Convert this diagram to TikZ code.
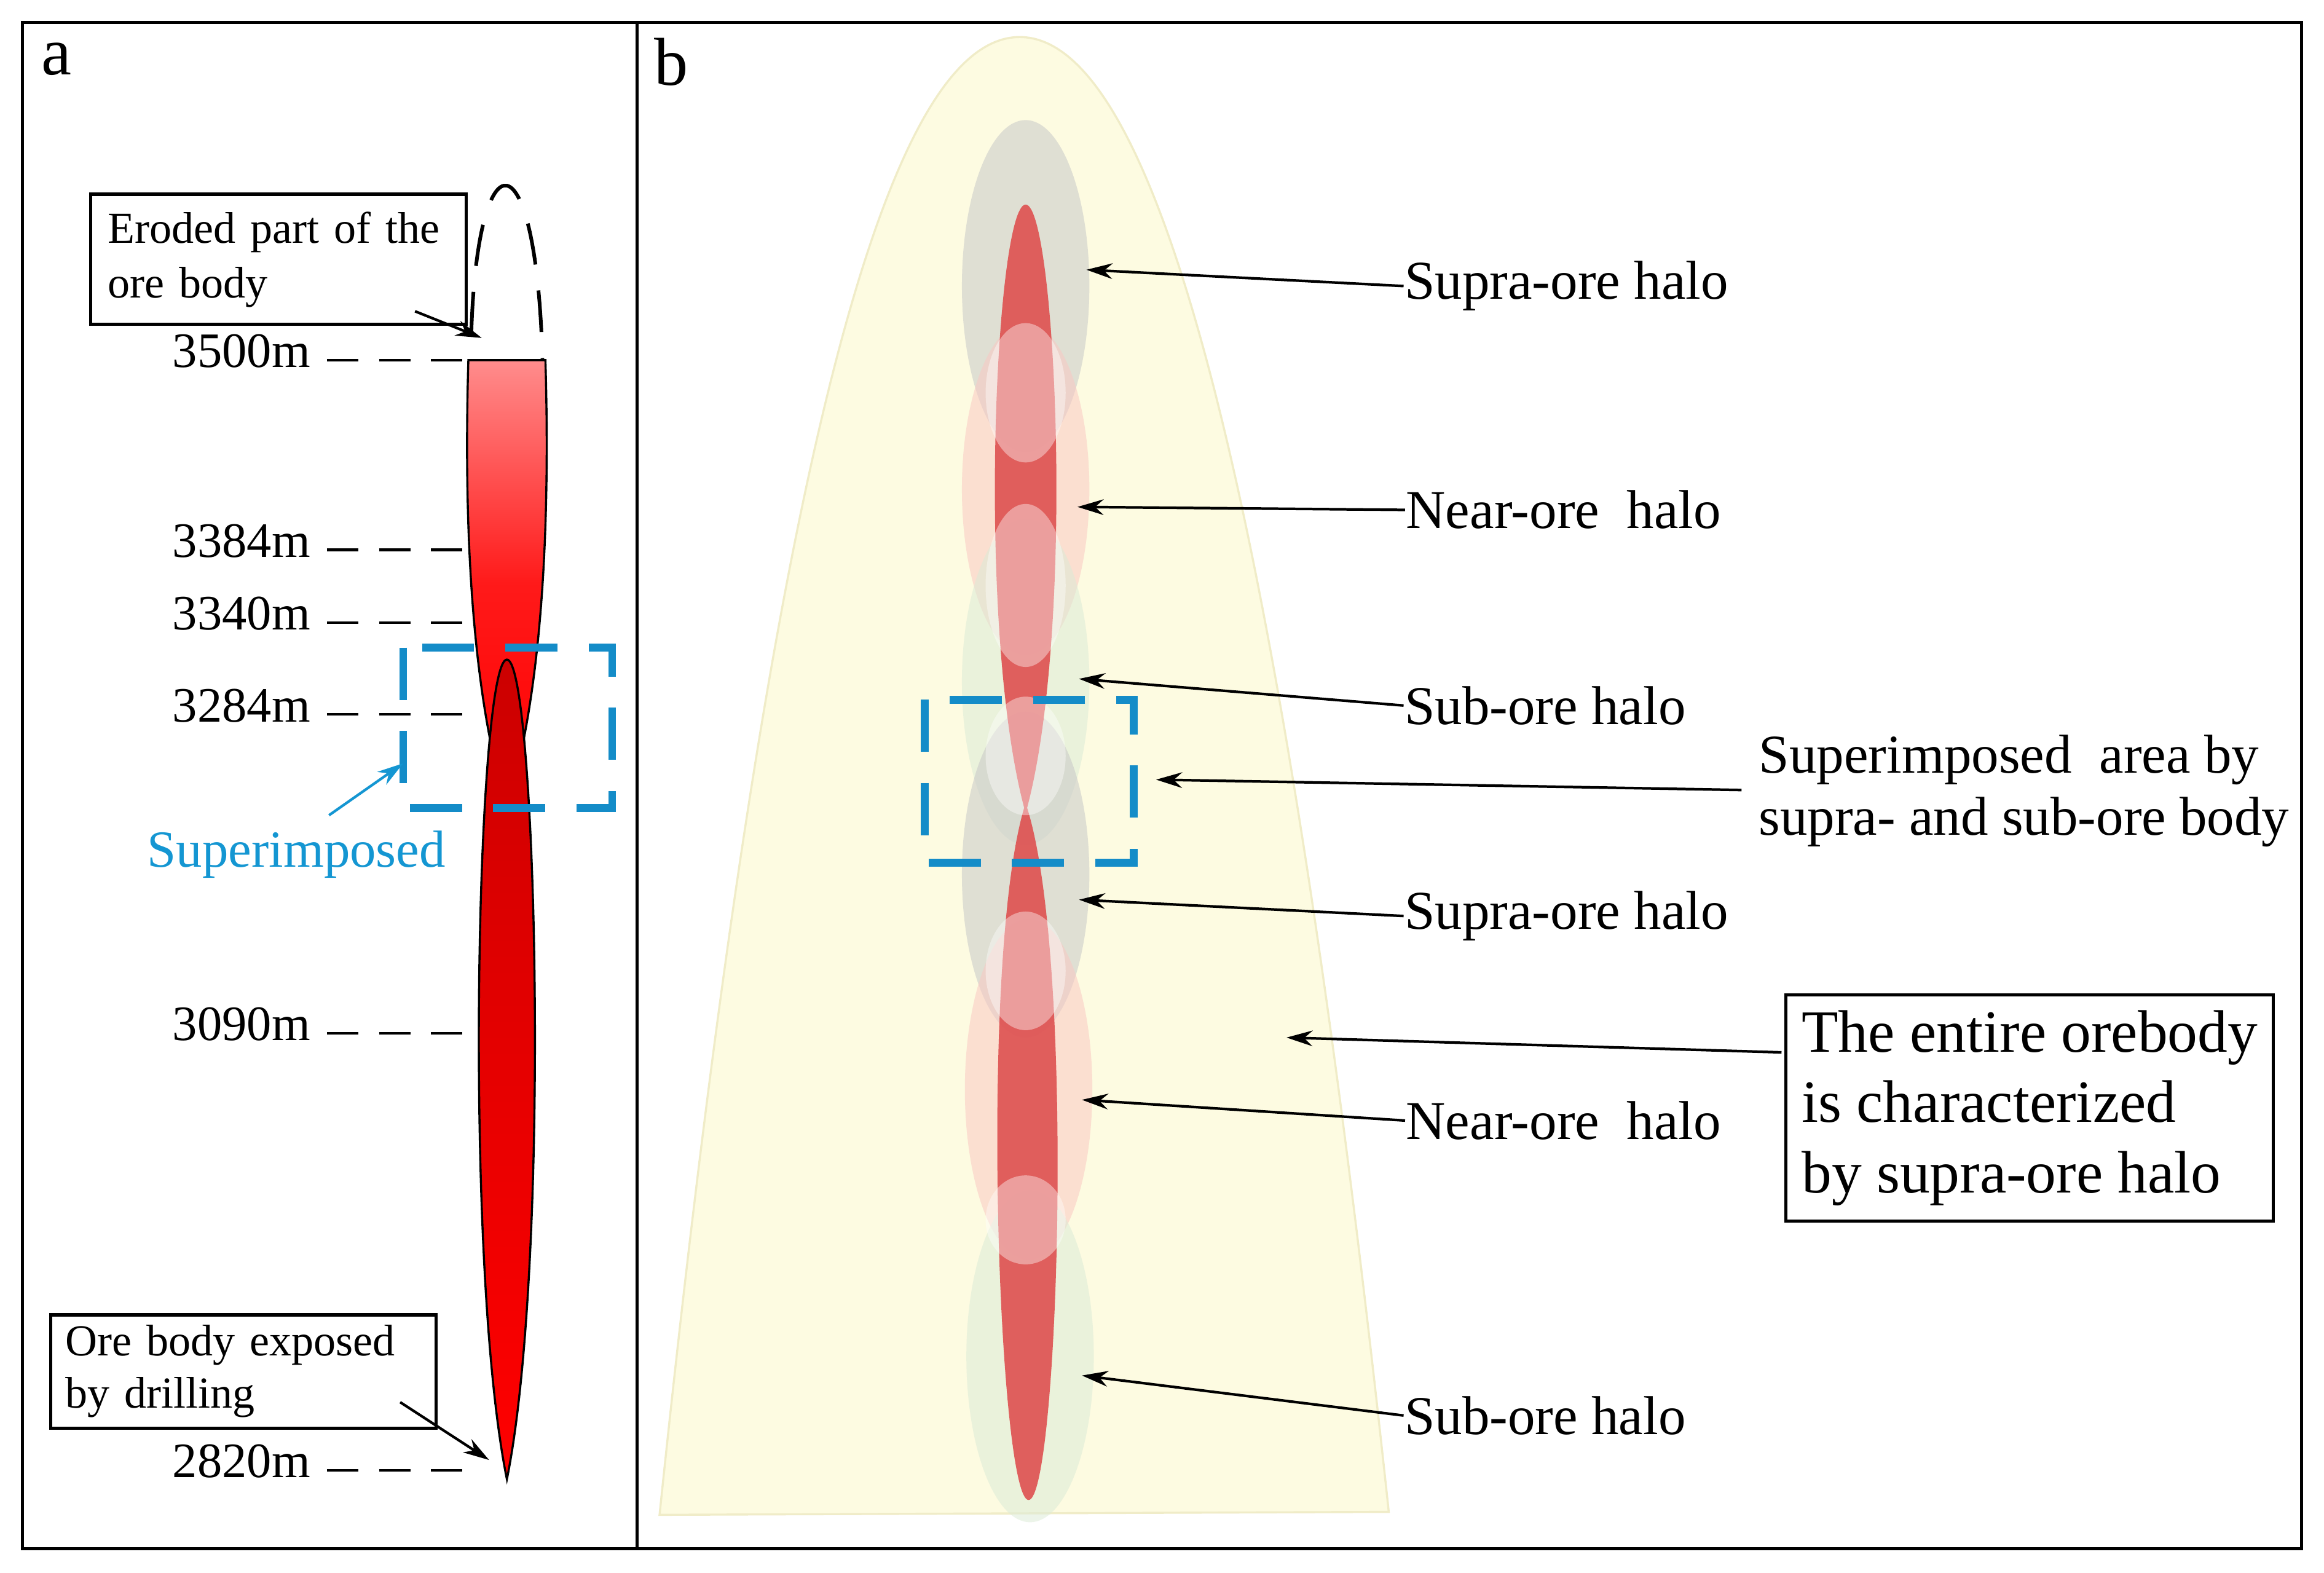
\documentclass[tikz,border=0pt]{standalone}
\usepackage{fontspec}
\setmainfont{Liberation Serif}
\usetikzlibrary{arrows.meta}
\definecolor{bluebx}{RGB}{20,140,200}
\definecolor{supc}{RGB}{20,150,210}
\definecolor{yel}{RGB}{253,251,225}
\definecolor{yeld}{RGB}{240,236,200}
\definecolor{hgrey}{RGB}{200,200,200}
\definecolor{hpink}{RGB}{250,200,195}
\definecolor{hgreen}{RGB}{220,235,215}
\definecolor{orer}{RGB}{222,80,80}
\definecolor{dred}{RGB}{200,0,0}
\begin{document}
\begin{tikzpicture}[x=0.01cm,y=-0.01cm,
 lbl/.style={font=\fontsize{10.5}{12}\selectfont,anchor=west,inner sep=0pt},
 lvl/.style={font=\fontsize{9.5}{11}\selectfont,anchor=east,inner sep=0pt},
 arr/.style={-{Stealth[length=5pt,width=3pt]},line width=0.5pt},
 lvline/.style={dashed,dash pattern=on 6pt off 4pt,line width=0.5pt},
 bluebox/.style={draw=bluebx,line width=1.5pt,dash pattern=on 10pt off 6pt},
 halo/.style={fill=#1,opacity=0.55}]
\useasboundingbox (0,0) rectangle (1568,1061);
\draw[line width=0.6pt] (15,15) rectangle (1553,1045);
\draw[line width=0.6pt] (430,15) -- (430,1045);
\node[font=\fontsize{13}{14}\selectfont] (la) at (38,40) {a};
\node[font=\fontsize{13}{14}\selectfont] (lb) at (453,42) {b};
% panel a
\shade[top color=red!45!white,bottom color=red,middle color=red!90!white]
 (316,243) -- (368,243) .. controls (372,380) and (362,480) .. (342,545) .. controls (322,480) and (312,380) .. (316,243) -- cycle;
\draw[line width=0.4pt] (316,243) -- (368,243) .. controls (372,380) and (362,480) .. (342,545) .. controls (322,480) and (312,380) .. (316,243) -- cycle;
\shade[top color=red!80!black,middle color=dred,bottom color=red]
 (342,445) .. controls (362,445) and (372,850) .. (342,998) .. controls (312,850) and (322,445) .. (342,445) -- cycle;
\draw[line width=0.4pt] (342,445) .. controls (362,445) and (372,850) .. (342,998) .. controls (312,850) and (322,445) .. (342,445) -- cycle;
\draw[line width=0.7pt,dash pattern=on 8pt off 5pt] (318,225) .. controls (322,89) and (362,89) .. (366,243);
\foreach \y/\t in {243/3500m,371/3384m,420/3340m,482/3284m,697/3090m,992/2820m}{
 \node[lvl] (l\t) at (210,\y-6) {\t};
 \coordinate (e\t) at (318,\y);
 \draw[lvline] ([xshift=3]l\t.east |- e\t) -- (e\t);
}
\draw[bluebox] (272,437) rectangle (413,545);
\node[font=\fontsize{10}{11}\selectfont,text=supc,anchor=north] (sup) at (200,548) {Superimposed};
\coordinate (supt) at (272,515);
\draw[arr,supc] (222,550) -- (supt);
\node[draw,line width=0.6pt,minimum width=2.46cm,minimum height=0.8cm,align=left,anchor=north west,font=\fontsize{8.5}{10.5}\selectfont,text width=2.3cm] (er) at (60,130) {Eroded part of the ore body};
\coordinate (ert) at (325,228);
\draw[arr] (280,210) -- (ert);
\node[draw,line width=0.6pt,minimum width=2.6cm,minimum height=0.6cm,align=left,anchor=north west,font=\fontsize{8.5}{10}\selectfont,text width=2.4cm,inner sep=2pt] (ob) at (33,886) {Ore body exposed by drilling};
\coordinate (obt) at (330,985);
\draw[arr] (270,946) -- (obt);
% panel b
\fill[yel] (445,1022) .. controls (520,300) and (600,25) .. (688,25) .. controls (776,25) and (860,300) .. (937,1020) -- cycle;
\draw[yeld,line width=0.4pt] (445,1022) .. controls (520,300) and (600,25) .. (688,25) .. controls (776,25) and (860,300) .. (937,1020) -- cycle;
\fill[halo=hgrey] (692,193) ellipse (43 and 112);
\fill[halo=hpink] (692,330) ellipse (43 and 112);
\fill[halo=hgreen] (692,460) ellipse (43 and 110);
\fill[halo=hgrey] (692,590) ellipse (43 and 110);
\fill[halo=hpink] (694,735) ellipse (43 and 115);
\fill[halo=hgreen] (695,915) ellipse (43 and 112);
\fill[orer,opacity=0.9] (692,138) .. controls (712,138) and (726,420) .. (693,545) .. controls (726,650) and (714,1012) .. (694,1012) .. controls (674,1012) and (660,650) .. (691,545) .. controls (658,420) and (672,138) .. (692,138) -- cycle;
\foreach \y/\r in {265/47,395/55,510/40,655/40,823/30}{
 \fill[white,opacity=0.4] (692,\y) ellipse (27 and \r);
}
\draw[bluebox] (624,472) rectangle (765,582);
\node[lbl] (t1) at (947,193) {Supra-ore halo};
\coordinate (p1) at (733,182); \draw[arr] (t1.west) -- (p1);
\node[lbl] (t2) at (948,344) {Near-ore\ \ halo};
\coordinate (p2) at (727,342); \draw[arr] (t2.west) -- (p2);
\node[lbl] (t3) at (947,476) {Sub-ore halo};
\coordinate (p3) at (728,458); \draw[arr] (t3.west) -- (p3);
\node[lbl,align=left,anchor=north west] (t4) at (1186,495) {Superimposed\ \ area by\\supra- and sub-ore body};
\coordinate (p4) at (780,526); \draw[arr] (1175,533) -- (p4);
\node[lbl] (t5) at (947,618) {Supra-ore halo};
\coordinate (p5) at (728,607); \draw[arr] (t5.west) -- (p5);
\node[draw,line width=0.6pt,anchor=north west,minimum width=3.28cm,minimum height=1.36cm,align=left,font=\fontsize{11.5}{13.5}\selectfont,inner sep=3pt] (t6) at (1204,670) {The entire orebody\\is characterized\\by supra-ore halo};
\coordinate (p6) at (868,700); \draw[arr] (1202,710) -- (p6);
\node[lbl] (t7) at (948,756) {Near-ore\ \ halo};
\coordinate (p7) at (730,742); \draw[arr] (t7.west) -- (p7);
\node[lbl] (t8) at (947,955) {Sub-ore halo};
\coordinate (p8) at (730,928); \draw[arr] (t8.west) -- (p8);
\end{tikzpicture}
\end{document}
